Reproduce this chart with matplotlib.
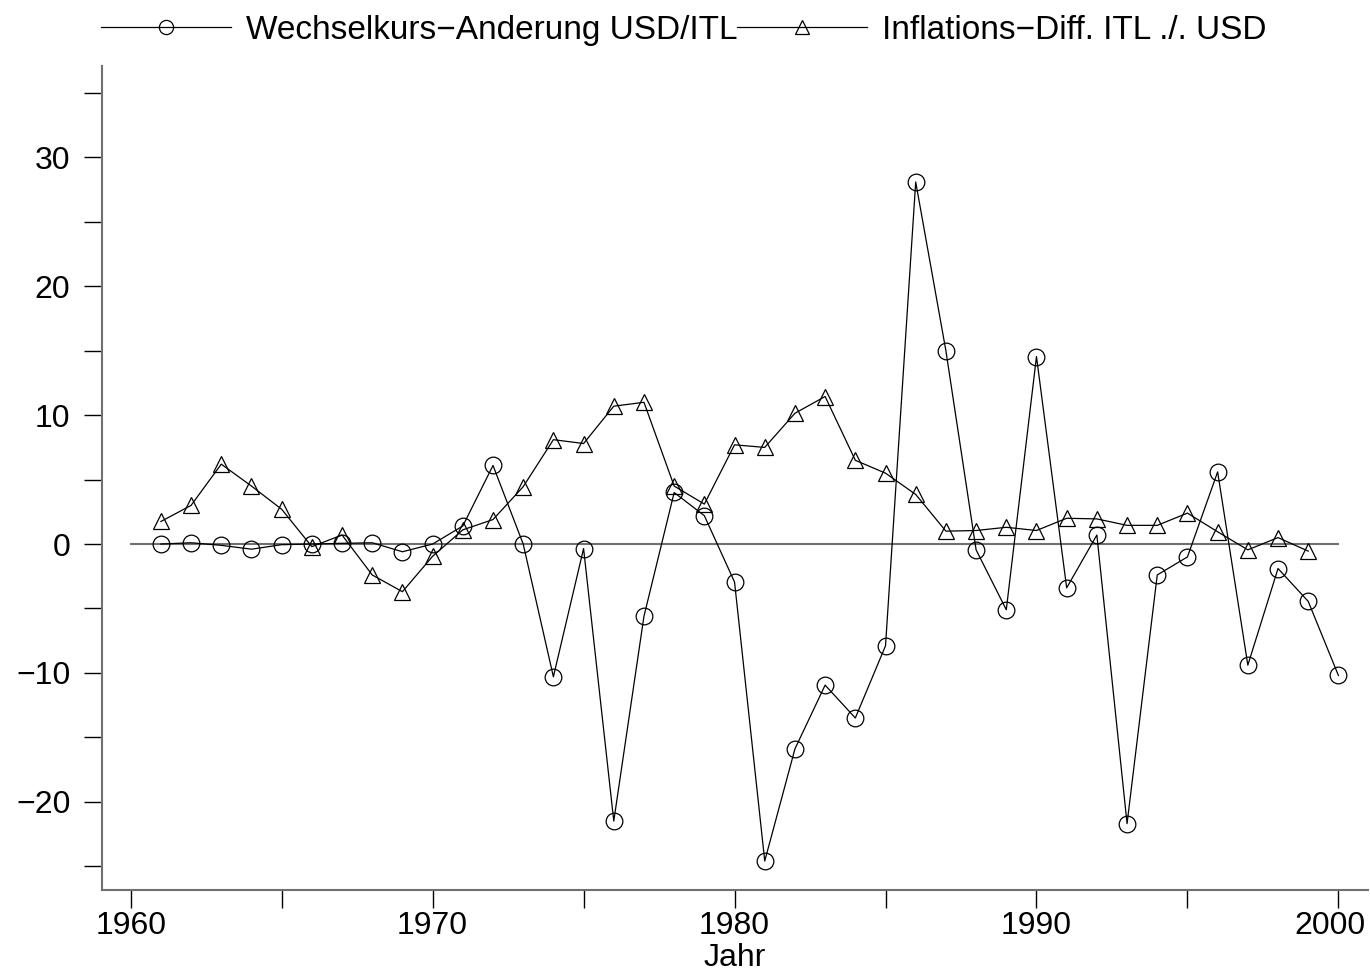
import numpy as np
import matplotlib
matplotlib.use("Agg")
import matplotlib.pyplot as plt
from matplotlib.transforms import ScaledTranslation

plt.rcParams['font.family'] = ['Liberation Sans', 'DejaVu Sans']

years_fx = list(range(1961, 2001))
fx_change = [0.0, 0.1, -0.1, -0.4, -0.05, 0.0, 0.05, 0.1, -0.6, 0.0,
             1.4, 6.1, 0.0, -10.3, -0.35, -21.5, -5.6, 4.0, 2.2, -2.95,
             -24.6, -15.9, -10.95, -13.5, -7.9, 28.1, 15.0, -0.45, -5.1, 14.55,
             -3.4, 0.7, -21.7, -2.4, -1.0, 5.6, -9.4, -1.9, -4.45, -10.2]

years_inf = list(range(1961, 2000))
infl_diff = [1.75, 3.0, 6.2, 4.5, 2.7, -0.2, 0.7, -2.4, -3.7, -0.95,
             1.1, 1.9, 4.45, 8.1, 7.8, 10.7, 11.0, 4.5, 3.1, 7.7,
             7.5, 10.15, 11.45, 6.5, 5.5, 3.85, 1.0, 1.05, 1.3, 1.05,
             2.0, 1.95, 1.45, 1.45, 2.4, 0.95, -0.45, 0.5, -0.55]

label_fx = "Wechselkurs\u2212Anderung USD/ITL"
label_inf = "Inflations\u2212Diff. ITL ./. USD"

fig = plt.figure(figsize=(13.7, 9.73), dpi=100)
ax = fig.add_axes([102/1370, 1-890/973, (1368-102)/1370, (890-66)/973])

ax.plot([1960, 2000], [0, 0], color='#707070', lw=1.5, zorder=1)
ax.plot(years_fx, fx_change, color='black', lw=0.9, marker='o', ms=12,
        mfc='none', mec='black', mew=0.9, label=label_fx)
ax.plot(years_inf, infl_diff, color='black', lw=0.9, marker='^', ms=12,
        mfc='none', mec='black', mew=0.9, label=label_inf)

ax.set_xlim(1959.05, 2000.98)
ax.set_ylim(-26.85, 37.1)
ax.set_xticks(np.arange(1960, 2001, 10))
ax.set_xticks(np.arange(1965, 2000, 10), minor=True)
ax.set_yticks([-20, -10, 0, 10, 20, 30])
ax.set_yticks([-25, -15, -5, 5, 15, 25, 35], minor=True)
ax.tick_params(which='both', direction='out', length=12.8, width=1, labelsize=23)
ax.tick_params(axis='x', which='both', pad=2.5)
ax.tick_params(axis='y', which='both', pad=10)

# keep the last year label inside the figure
last = ax.get_xticklabels()[-1]
last.set_transform(last.get_transform() + ScaledTranslation(-8/100, 0, fig.dpi_scale_trans))

for s in ['top', 'right']:
    ax.spines[s].set_visible(False)
for s in ['left', 'bottom']:
    ax.spines[s].set_color('#707070')
    ax.spines[s].set_linewidth(1.5)

ax.set_xlabel("Jahr", fontsize=23, labelpad=1)

fig.legend(loc='upper left', bbox_to_anchor=(94/1370, 1.0 - 8/973), ncol=2, frameon=False,
           fontsize=24, handlelength=3.9, handletextpad=0.45, columnspacing=0.0,
           markerscale=0.85, borderaxespad=0.0, borderpad=0.2)

fig.savefig("out.png", dpi=100)
